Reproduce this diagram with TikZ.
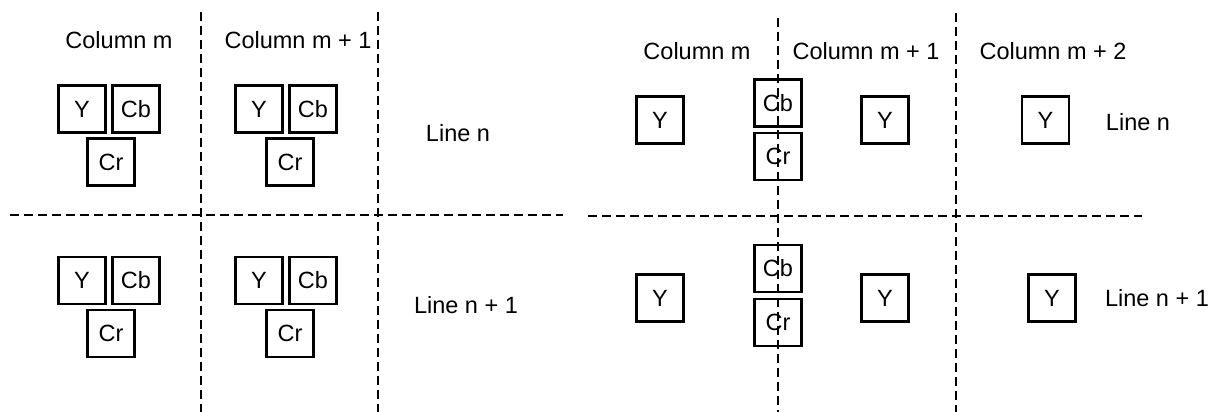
\documentclass[tikz,border=0pt]{standalone}
\usepackage{fontspec}
\setmainfont{Liberation Sans}
\begin{document}
\begin{tikzpicture}[x=1pt,y=-1pt,
  sample/.style={draw, line width=2.6pt, inner sep=0pt, minimum width=47pt, minimum height=47pt, font=\fontsize{23.5}{26}\selectfont},
  lbl/.style={inner sep=0pt, font=\fontsize{23.5}{26}\selectfont},
  grid/.style={line width=1.3pt, dash pattern=on 9pt off 5pt}]
\useasboundingbox (0,0) rectangle (1210,412);
% grid lines
\draw[grid] (201,12) -- (201,412);
\draw[grid] (378,12) -- (378,412);
\draw[grid] (778,18) -- (778,412);
\draw[grid] (956,13) -- (956,412);
\draw[grid] (10,215) -- (563,215);
\draw[grid] (588,216) -- (1142,216);
% left panel labels
\node[lbl] (lc1) at (119,40) {Column m};
\node[lbl] (lc2) at (298,40) {Column m + 1};
\node[lbl] (ll1) at (458,133) {Line n};
\node[lbl] (ll2) at (466,305) {Line n + 1};
% left panel samples, line n
\node[sample] (aY1) at (82,109) {Y};
\node[sample] (aCb1) at (136,109) {Cb};
\node[sample] (aCr1) at (111,162) {Cr};
\node[sample] (aY2) at (259,109) {Y};
\node[sample] (aCb2) at (313,109) {Cb};
\node[sample] (aCr2) at (290,162) {Cr};
% left panel samples, line n+1
\node[sample] (bY1) at (82,280.5) {Y};
\node[sample] (bCb1) at (136,280.5) {Cb};
\node[sample] (bCr1) at (111,333.5) {Cr};
\node[sample] (bY2) at (259,280.5) {Y};
\node[sample] (bCb2) at (313,280.5) {Cb};
\node[sample] (bCr2) at (290,333.5) {Cr};
% right panel labels
\node[lbl] (rc1) at (697,51) {Column m};
\node[lbl] (rc2) at (866,51) {Column m + 1};
\node[lbl] (rc3) at (1053,51) {Column m + 2};
\node[lbl] (rl1) at (1138,122) {Line n};
\node[lbl] (rl2) at (1157,298) {Line n + 1};
% right panel samples, line n
\node[sample] (cY1) at (660,120) {Y};
\node[sample] (cCb) at (778,103) {Cb};
\node[sample] (cCr) at (778,156.5) {Cr};
\node[sample] (cY2) at (885,120) {Y};
\node[sample] (cY3) at (1045.5,120) {Y};
% right panel samples, line n+1
\node[sample] (dY1) at (660,298) {Y};
\node[sample] (dCb) at (778,268.5) {Cb};
\node[sample] (dCr) at (778,322.5) {Cr};
\node[sample] (dY2) at (885,298) {Y};
\node[sample] (dY3) at (1052,298) {Y};
\end{tikzpicture}
\end{document}
